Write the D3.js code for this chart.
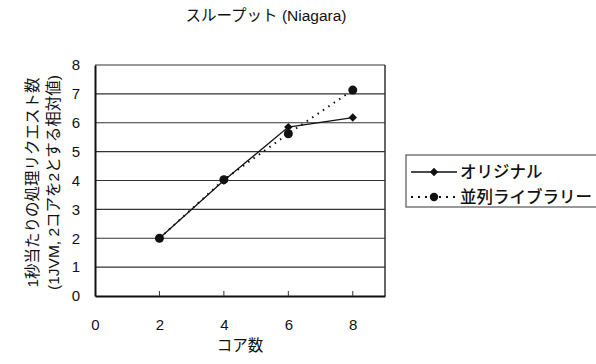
<!DOCTYPE html>
<html>
<head>
<meta charset="utf-8">
<script src="https://cdn.jsdelivr.net/npm/d3@7"></script>
<style>
  body { margin: 0; background: #fff; }
  text { font-family: "Liberation Sans", "Noto Sans CJK JP", sans-serif; fill: #111; }
</style>
</head>
<body>
<script>
const width = 596;
const height = 364;

// データ
const cores = [2, 4, 6, 8];
const original = [2.0, 4.0, 5.85, 6.18];
const parallelLib = [2.0, 4.03, 5.62, 7.13];
const seriesNames = ["オリジナル", "並列ライブラリー"];
const xTicks = [0, 2, 4, 6, 8];
const yTicks = [0, 1, 2, 3, 4, 5, 6, 7, 8];

// プロット領域
const plot = { left: 95, right: 385, top: 65, bottom: 296 };

const svg = d3.select("body").append("svg")
  .attr("width", width)
  .attr("height", height);

const x = d3.scaleLinear().domain([0, 9]).range([plot.left, plot.right]);
const y = d3.scaleLinear().domain([0, 8]).range([plot.bottom, plot.top]);

// タイトル
svg.append("text")
  .attr("x", 266).attr("y", 21)
  .attr("text-anchor", "middle")
  .attr("font-size", 15.5)
  .text("スループット (Niagara)");

// グリッド線
svg.selectAll(".grid")
  .data(yTicks.filter(d => d > 0))
  .enter().append("line")
  .attr("class", "grid")
  .attr("x1", plot.left).attr("x2", plot.right)
  .attr("y1", d => y(d)).attr("y2", d => y(d))
  .attr("stroke", "#333").attr("stroke-width", 1.2);

// 枠
svg.append("line")
  .attr("x1", plot.right).attr("x2", plot.right)
  .attr("y1", plot.top).attr("y2", plot.bottom)
  .attr("stroke", "#333").attr("stroke-width", 1.5);

// y軸
svg.append("g")
  .attr("transform", `translate(${plot.left},0)`)
  .call(d3.axisLeft(y).tickValues(yTicks).tickSize(0).tickPadding(15).tickFormat(d3.format("d")))
  .call(g => g.select(".domain").attr("stroke", "#111").attr("stroke-width", 2))
  .call(g => g.selectAll("text").attr("font-size", 15).attr("fill", "#111")
    .attr("font-family", "Liberation Sans, sans-serif"));

// x軸
svg.append("g")
  .attr("transform", `translate(0,${plot.bottom})`)
  .call(d3.axisBottom(x).tickValues(xTicks).tickSize(0).tickPadding(0).tickFormat(d3.format("d")))
  .call(g => g.select(".domain").attr("stroke", "#111").attr("stroke-width", 2))
  .call(g => g.selectAll("text").attr("font-size", 15).attr("fill", "#111")
    .attr("dy", 34).attr("font-family", "Liberation Sans, sans-serif"));

// x軸の目盛り（上向き）
svg.selectAll(".xtick")
  .data(xTicks.filter(d => d > 0))
  .enter().append("line")
  .attr("x1", d => x(d)).attr("x2", d => x(d))
  .attr("y1", plot.bottom).attr("y2", plot.bottom - 5)
  .attr("stroke", "#333").attr("stroke-width", 1);

// 軸タイトル
svg.append("text")
  .attr("x", 240).attr("y", 351)
  .attr("text-anchor", "middle")
  .attr("font-size", 15.5)
  .text("コア数");

const yTitle = svg.append("text")
  .attr("transform", `translate(38,${(plot.top + plot.bottom) / 2 + 2}) rotate(-90)`)
  .attr("text-anchor", "middle")
  .attr("font-size", 15.5);
yTitle.append("tspan").attr("x", 0).attr("dy", 0).text("1秒当たりの処理リクエスト数");
yTitle.append("tspan").attr("x", 0).attr("dy", 21).text("(1JVM, 2コアを2とする相対値)");

// 折れ線
const line = d3.line().x(d => x(d[0])).y(d => y(d[1]));
const origPts = cores.map((c, i) => [c, original[i]]);
const parPts = cores.map((c, i) => [c, parallelLib[i]]);

svg.append("path")
  .attr("d", line(parPts))
  .attr("fill", "none").attr("stroke", "#111")
  .attr("stroke-width", 2).attr("stroke-dasharray", "1.5,5");

svg.append("path")
  .attr("d", line(origPts))
  .attr("fill", "none").attr("stroke", "#111").attr("stroke-width", 1.3);

const diamond = d3.symbol().type(d3.symbolDiamond2).size(45);

svg.selectAll(".par")
  .data(parPts)
  .enter().append("circle")
  .attr("cx", d => x(d[0])).attr("cy", d => y(d[1]))
  .attr("r", 4.5).attr("fill", "#111");

svg.selectAll(".orig")
  .data(origPts)
  .enter().append("path")
  .attr("d", diamond)
  .attr("transform", d => `translate(${x(d[0])},${y(d[1])})`)
  .attr("fill", "#111");

// 凡例
const legend = svg.append("g");
legend.append("rect")
  .attr("x", 406).attr("y", 155)
  .attr("width", 200).attr("height", 52)
  .attr("fill", "none").attr("stroke", "#555").attr("stroke-width", 1.2);

const rows = [172, 197];
legend.append("line")
  .attr("x1", 411).attr("x2", 457).attr("y1", rows[0]).attr("y2", rows[0])
  .attr("stroke", "#111").attr("stroke-width", 1.3);
legend.append("path")
  .attr("d", diamond)
  .attr("transform", `translate(434,${rows[0]})`)
  .attr("fill", "#111");
legend.append("line")
  .attr("x1", 411).attr("x2", 457).attr("y1", rows[1]).attr("y2", rows[1])
  .attr("stroke", "#111").attr("stroke-width", 2).attr("stroke-dasharray", "2,5");
legend.append("circle")
  .attr("cx", 434).attr("cy", rows[1]).attr("r", 4.2).attr("fill", "#111");

legend.selectAll(".ltext")
  .data(seriesNames)
  .enter().append("text")
  .attr("x", 460).attr("y", (d, i) => rows[i] + 6)
  .attr("font-size", 16.5)
  .attr("font-weight", 500)
  .text(d => d);
</script>
</body>
</html>
